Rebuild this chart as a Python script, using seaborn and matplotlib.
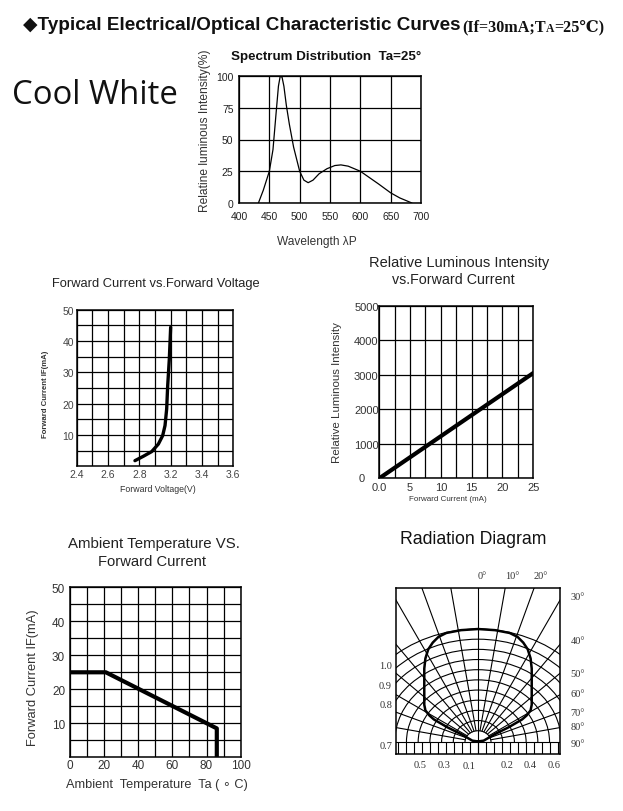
import numpy as np
import matplotlib
matplotlib.use("Agg")
import matplotlib.pyplot as plt
import seaborn as sns
from matplotlib.patches import Arc

# ---------------- data ----------------
spec_wl = [432, 440, 450, 456, 461, 465, 468, 471, 474, 478, 483, 490, 500, 507, 514,
           522, 532, 545, 558, 568, 580, 600, 615, 630, 650, 665, 685]
spec_val = [0, 10, 25, 42, 70, 92, 100, 99, 92, 77, 62, 44, 25, 18, 16,
            18, 23, 27, 29.5, 30, 29, 25, 20, 15, 8, 4, 0]
spec_xticks = [400, 450, 500, 550, 600, 650, 700]
spec_yticks = [0, 25, 50, 75, 100]

fv_voltage = [2.772, 2.851, 2.958, 3.043, 3.098, 3.128, 3.149, 3.162, 3.183, 3.200]
fv_current = [1.8, 3.2, 4.7, 7.1, 9.8, 13.0, 18.3, 25.7, 34.3, 44.4]
fv_tick_values = [2.4, 2.6, 2.8, 3.2, 3.4, 3.6]
fv_tick_labels = ["2.4", "2.6", "2.8", "3.2", "3.4", "3.6"]
fv_minor_values = [2.5, 2.7, 3.0, 3.3, 3.5]
fv_yticks = [10, 20, 30, 40, 50]

rli_current = [0, 25]
rli_intensity = [0, 3050]
rli_xticks = [0, 5, 10, 15, 20, 25]
rli_xtick_labels = ["0.0", "5", "10", "15", "20", "25"]
rli_yticks = [0, 1000, 2000, 3000, 4000, 5000]
rli_ytick_labels = ["0", "1000", "2000", "3000", "4000", "5000"]

at_temp = [0, 21, 86, 86]
at_current = [25, 25, 8.5, 0]
at_xticks = [0, 20, 40, 60, 80, 100]
at_yticks = [10, 20, 30, 40, 50]

rad_x_half = [0.00, 0.15, 0.28, 0.35, 0.40, 0.44, 0.465, 0.475, 0.475, 0.465, 0.43, 0.39, 0.27, 0.15, 0.05, 0.00]
rad_y_half = [1.00, 0.99, 0.965, 0.93, 0.88, 0.82, 0.74, 0.65, 0.33, 0.28, 0.235, 0.20, 0.13, 0.07, 0.012, 0.005]
rad_top_labels = ["0°", "10°", "20°"]
rad_right_labels = ["30°", "40°", "50°", "60°", "70°", "80°", "90°"]
rad_left_labels = ["1.0", "0.9", "0.8", "0.7"]
rad_bottom_labels = ["0.5", "0.3", "0.1", "0.2", "0.4", "0.6"]

# ---------------- style ----------------
sns.set_theme(style="white")
plt.rcParams["font.family"] = ["Liberation Sans", "DejaVu Sans"]
plt.rcParams["axes.edgecolor"] = "black"
plt.rcParams["axes.linewidth"] = 1.0

W, H = 623, 812
fig = plt.figure(figsize=(W / 100, H / 100), dpi=100)
renderer = fig.canvas.get_renderer()


def fx(x):
    return x / W


def fy(y):
    return 1 - y / H


def fit_text(s, x, cy, length, rotation=0, ha="center", **kw):
    t = fig.text(fx(x), fy(cy), s, ha=ha, va="center", rotation=rotation,
                 fontsize=10, **kw)
    bb = t.get_window_extent(renderer=renderer)
    cur = bb.height if rotation == 90 else bb.width
    t.set_fontsize(10 * length / cur)
    return t


def add_ax(left, top, right, bottom):
    return fig.add_axes([fx(left), fy(bottom), (right - left) / W, (bottom - top) / H])


def style_grid(ax, lw=0.9):
    ax.grid(True, which="both", color="black", linewidth=lw)
    ax.set_axisbelow(True)
    ax.tick_params(which="both", length=0)
    for sp in ax.spines.values():
        sp.set_color("black")
        sp.set_linewidth(1.1)
        sp.set_visible(True)
    ax.set_xlabel("")
    ax.set_ylabel("")


# ---------------- title ----------------
fit_text("◆Typical Electrical/Optical Characteristic Curves", 23, 26, 438,
         ha="left", fontweight="bold", color="#111",
         family=["Liberation Sans", "DejaVu Sans"])

serif = ["Liberation Serif", "DejaVu Serif", "DejaVu Sans"]


def draw_part2(size, x0, y):
    arts = []
    x = x0
    for s, scale, dy in [("(If=30mA;T", 1.0, 0), ("A", 0.72, 2), ("=25℃)", 1.0, 0)]:
        t = fig.text(fx(x), fy(y + dy), s, ha="left", va="center", fontsize=size * scale,
                     fontweight="bold", family=serif, color="#111")
        bb = t.get_window_extent(renderer=renderer)
        x += bb.width
        arts.append(t)
    return arts, x - x0


arts, w = draw_part2(10, 462, 27)
for a in arts:
    a.remove()
draw_part2(10 * 142 / w, 462, 27)

fit_text("Cool White", 12, 96, 166, ha="left", family=["Open Sans", "DejaVu Sans"], color="#111")

# ---------------- spectrum ----------------
ax = add_ax(239, 77, 421, 204)
sns.lineplot(x=spec_wl, y=spec_val, ax=ax, color="black", linewidth=0.9,
             sort=False, estimator=None)
ax.set_xlim(400, 700)
ax.set_ylim(0, 100)
ax.set_xticks(spec_xticks)
ax.set_yticks(spec_yticks)
style_grid(ax)
ax.tick_params(axis="x", labelsize=7.5, pad=6, labelcolor="#222")
ax.tick_params(axis="y", labelsize=7.5, pad=4, labelcolor="#222")
fit_text("Spectrum Distribution  Ta=25°", 326, 57, 190, fontweight="bold", color="#111")
fit_text("Relatine luminous Intensity(%)", 205, 131, 163, rotation=90, color="#333")
fit_text("Wavelength λP", 317, 242, 80, color="#333")

# ---------------- forward current vs voltage ----------------
ax = add_ax(76.7, 310.7, 233.3, 467.3)
sns.lineplot(x=fv_voltage, y=fv_current, ax=ax, color="black", linewidth=2.4,
             sort=False, estimator=None)
pos = list(range(len(fv_tick_values)))
ax.set_xscale("function", functions=(lambda v: np.interp(v, fv_tick_values, pos),
                                     lambda p: np.interp(p, pos, fv_tick_values)))
ax.set_xlim(2.4, 3.6)
ax.set_ylim(0, 50)
ax.set_xticks(fv_tick_values)
ax.set_xticklabels(fv_tick_labels)
ax.set_xticks(fv_minor_values, minor=True)
ax.xaxis.set_minor_formatter(matplotlib.ticker.NullFormatter())
ax.set_yticks(fv_yticks)
ax.set_yticks([5, 15, 25, 35, 45], minor=True)
style_grid(ax)
ax.tick_params(axis="both", labelsize=7.5, pad=2, labelcolor="#444")
fit_text("Forward Current vs.Forward Voltage", 155.5, 284, 208, color="#222")
fit_text("Forward Current IF(mA)", 45.7, 394, 88, rotation=90, fontweight="bold", color="#333")
fit_text("Forward Voltage(V)", 158, 490, 76, color="#333")

# ---------------- relative luminous intensity ----------------
ax = add_ax(379.3, 306.7, 533.3, 479.3)
sns.lineplot(x=rli_current, y=rli_intensity, ax=ax, color="black", linewidth=3.0,
             sort=False, estimator=None)
ax.set_xlim(0, 25)
ax.set_ylim(0, 5000)
ax.set_xticks(rli_xticks)
ax.set_xticklabels(rli_xtick_labels)
ax.set_xticks([2.5, 7.5, 12.5, 17.5, 22.5], minor=True)
ax.set_yticks(rli_yticks)
ax.set_yticklabels([""] + rli_ytick_labels[1:])
style_grid(ax)
ax.tick_params(axis="x", labelsize=8, pad=2.5, labelcolor="#333")
ax.tick_params(axis="y", labelsize=8, pad=0.5, labelcolor="#333")
# the zero of the intensity axis sits further left, as in the reference
ax.text(-0.115, 0.0, rli_ytick_labels[0], transform=ax.transAxes, ha="center",
        va="center", fontsize=8, color="#333")
fit_text("Relative Luminous Intensity", 459.6, 263, 179, color="#222")
fit_text("vs.Forward Current", 453.3, 280, 123, color="#222")
fit_text("Relative Luminous Intensity", 336.7, 392.5, 141, rotation=90, color="#333")
fit_text("Forward Current (mA)", 448, 500, 78, color="#333")

# ---------------- ambient temperature ----------------
ax = add_ax(70, 588.3, 240.7, 758.3)
sns.lineplot(x=at_temp, y=at_current, ax=ax, color="black", linewidth=3.0,
             sort=False, estimator=None)
ax.set_xlim(0, 100)
ax.set_ylim(0, 50)
ax.set_xticks(at_xticks)
ax.set_xticks([10, 30, 50, 70, 90], minor=True)
ax.set_yticks(at_yticks)
ax.set_yticks([5, 15, 25, 35, 45], minor=True)
style_grid(ax)
ax.tick_params(axis="x", labelsize=8.5, pad=1, labelcolor="#333")
ax.tick_params(axis="y", labelsize=8.5, pad=3.5, labelcolor="#333")
fit_text("Ambient Temperature VS.", 154, 544, 172, color="#222")
fit_text("Forward Current", 152, 562, 108, color="#222")
fit_text("Forward Current IF(mA)", 33.3, 678, 137, rotation=90, color="#333")
fit_text("Ambient  Temperature  Ta ( ∘ C)", 156.6, 785, 183, color="#333")

# ---------------- radiation diagram ----------------
ax = add_ax(396, 589, 560, 755)
ax.set_xlim(-0.725, 0.725)
ax.set_ylim(-0.106, 1.363)
kx = 1.15
for r in np.linspace(0.1, 1.0, 11):
    ax.add_patch(Arc((0, 0), 2 * r * kx, 2 * r, theta1=0, theta2=180,
                     color="black", linewidth=0.8))
for a in range(-80, 81, 10):
    t = np.deg2rad(a)
    s, c = np.sin(t), np.cos(t)
    r0 = 0.1 / np.sqrt((s / kx) ** 2 + c ** 2)
    y0 = -0.2 if a == 0 else r0 * c
    x0 = 0 if a == 0 else r0 * s
    ax.plot([x0, 3 * s], [y0, 3 * c], color="black", linewidth=0.8)
ax.axhline(0, color="black", linewidth=0.8)
for k in range(-10, 11):
    ax.plot([k * 0.0705, k * 0.0705], [-0.2, 0], color="black", linewidth=0.8)
rad_x = [-v for v in rad_x_half[::-1]] + rad_x_half[1:]
rad_y = rad_y_half[::-1] + rad_y_half[1:]
sns.lineplot(x=rad_x, y=rad_y, ax=ax, color="black", linewidth=1.8,
             sort=False, estimator=None, zorder=5)
ax.set_xticks([])
ax.set_yticks([])
ax.set_xlabel("")
ax.set_ylabel("")
for sp in ax.spines.values():
    sp.set_color("black")
    sp.set_linewidth(1.1)
    sp.set_visible(True)

lab_kw = dict(family=serif, fontsize=7.5, color="#333", clip_on=False, va="center")
top_x = [0.04, 0.305, 0.553]
for s, x in zip(rad_top_labels, top_x):
    ax.text(x, 1.47, s, ha="center", **lab_kw)
right_y = [1.29, 0.90, 0.61, 0.43, 0.265, 0.14, -0.01]
for s, y in zip(rad_right_labels, right_y):
    ax.text(0.82, y, s, ha="left", **lab_kw)
left_y = [0.68, 0.50, 0.336, -0.03]
for s, y in zip(rad_left_labels, left_y):
    ax.text(-0.76, y, s, ha="right", **lab_kw)
bottom_x = [-0.51, -0.30, -0.075, 0.26, 0.465, 0.677]
bottom_y = [-0.195, -0.195, -0.21, -0.195, -0.195, -0.2]
for s, x, y in zip(rad_bottom_labels, bottom_x, bottom_y):
    ax.text(x, y, s, ha="center", **lab_kw)

fit_text("Radiation Diagram", 473.6, 540, 147, color="#111")

fig.savefig("out.png", dpi=100, facecolor="white")
